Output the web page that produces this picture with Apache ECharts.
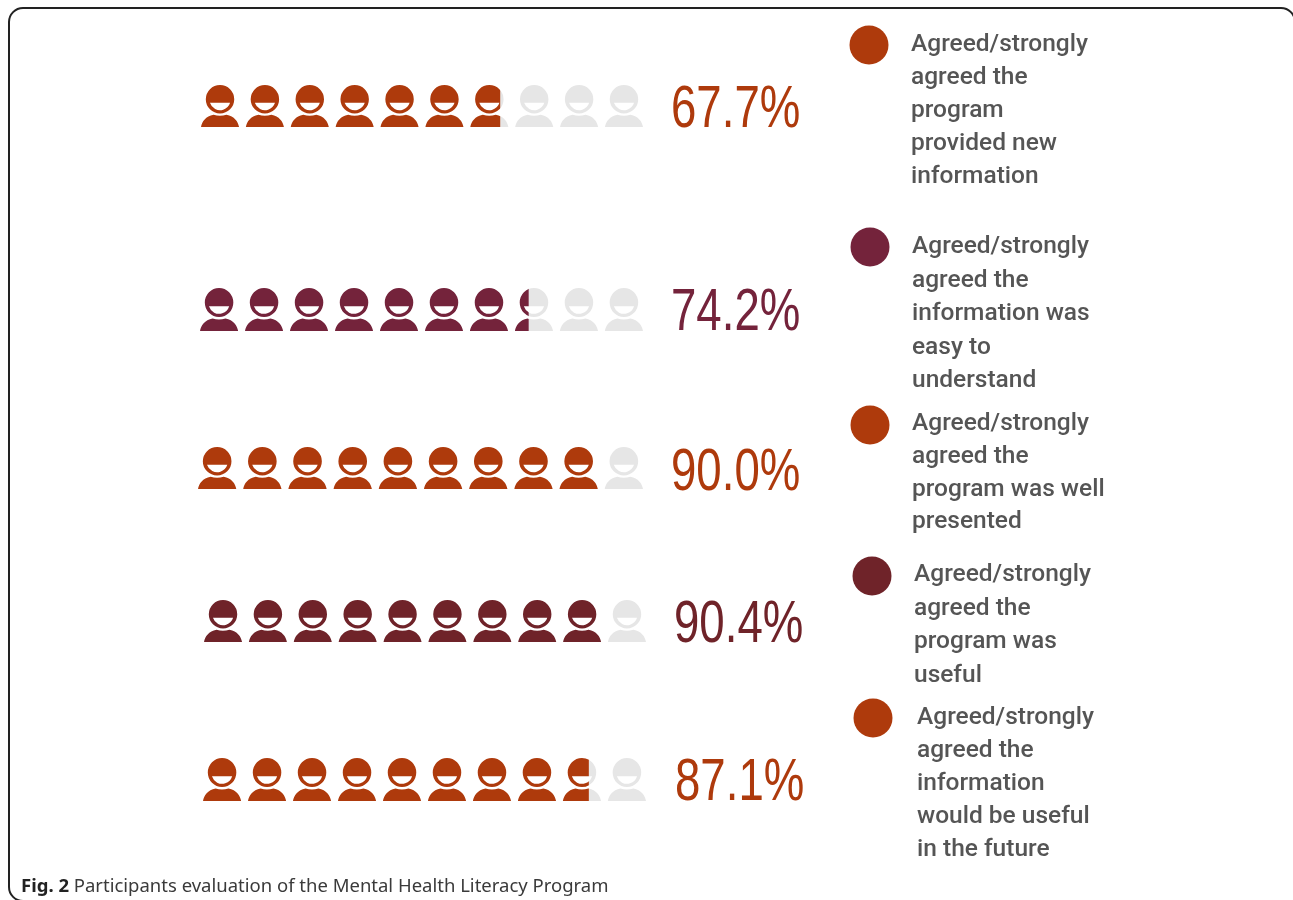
<!DOCTYPE html>
<html>
<head>
<meta charset="utf-8">
<script src="https://cdn.jsdelivr.net/npm/echarts@6/dist/echarts.min.js"></script>
<style>html,body{margin:0;padding:0;background:#fff}#c{width:1293px;height:900px}</style>
</head>
<body>
<div id="c"></div>
<script>
var percentValues = [67.7, 74.2, 90.0, 90.4, 87.1];
var iconCount = 10;
var rowColors = ['#AE3A0C', '#74233B', '#AE3A0C', '#6F2329', '#AE3A0C'];
var legendColors = ['#AE3A0C', '#74233B', '#AE3A0C', '#6F2329', '#AE3A0C'];
var legendLines = [
  ['Agreed/strongly', 'agreed the', 'program', 'provided new', 'information'],
  ['Agreed/strongly', 'agreed the', 'information was', 'easy to', 'understand'],
  ['Agreed/strongly', 'agreed the', 'program was well', 'presented'],
  ['Agreed/strongly', 'agreed the', 'program was', 'useful'],
  ['Agreed/strongly', 'agreed the', 'information', 'would be useful', 'in the future']
];
var captionBold = 'Fig. 2';
var captionText = ' Participants evaluation of the Mental Health Literacy Program';

// Layout
var rowBoxes = [
  {left: 201, width: 442, top: 85, height: 42},
  {left: 200, width: 443, top: 288, height: 43},
  {left: 198, width: 445, top: 447, height: 42},
  {left: 204, width: 442, top: 600, height: 42},
  {left: 203, width: 443, top: 758, height: 43}
];
var pctPos = [[671, 110], [671, 313], [671, 473], [674, 625], [675, 783]];
var circlePos = [[869, 45], [870, 247], [870, 425], [872, 576], [873, 718]];
var legendPos = [[911, 45, 33], [912, 247, 33.5], [912, 424, 32.7], [914, 575, 33.5], [917, 718, 33]];

var personPath = 'path://M57.5 0A43 43 0 1 1 57.5 86A43 43 0 1 1 57.5 0Z' +
  'M27 54A32 32 0 0 0 88 54Z' +
  'M0 127C3 110 14 95 38 90Q57 96 77 90C101 95 112 110 115 127Z';

var grids = [], xAxes = [], yAxes = [], series = [], graphics = [];

percentValues.forEach(function (v, i) {
  var b = rowBoxes[i];
  grids.push({left: b.left, width: b.width, top: b.top, height: b.height, containLabel: false});
  xAxes.push({type: 'value', gridIndex: i, min: 0, max: 100, show: false});
  yAxes.push({type: 'category', gridIndex: i, data: ['r' + i], show: false});
  var common = {
    type: 'pictorialBar', xAxisIndex: i, yAxisIndex: i, symbol: personPath,
    symbolRepeat: iconCount, symbolBoundingData: 100, symbolPosition: 'start',
    symbolSize: [b.width / 11.62, b.height], silent: true, animation: false
  };
  series.push(Object.assign({}, common, {
    z: 1, data: [100], itemStyle: {color: '#E6E6E6'}
  }));
  series.push({
    type: 'bar', xAxisIndex: i, yAxisIndex: i, z: 2, barWidth: b.height + 2, silent: true,
    animation: false, data: [v], itemStyle: {color: '#fff'}
  });
  series.push(Object.assign({}, common, {
    z: 3, data: [v], symbolClip: true, itemStyle: {color: rowColors[i]}
  }));
  graphics.push({
    type: 'text', x: pctPos[i][0], y: pctPos[i][1], scaleX: 0.76, silent: true,
    style: {
      text: v.toFixed(1) + '%', fill: rowColors[i],
      font: '60px "Liberation Sans"', textVerticalAlign: 'middle', textAlign: 'left'
    }
  });
  graphics.push({
    type: 'circle', shape: {cx: circlePos[i][0], cy: circlePos[i][1], r: 19.5},
    silent: true, style: {fill: legendColors[i]}
  });
  var lp = legendPos[i];
  legendLines[i].forEach(function (line, j) {
    graphics.push({
      type: 'text', x: lp[0], y: lp[1] + j * lp[2], silent: true,
      style: {
        text: line, fill: '#555555', font: '500 24.5px Roboto',
        textVerticalAlign: 'middle', textAlign: 'left'
      }
    });
  });
});

graphics.push({
  type: 'rect', silent: true, z: 10,
  shape: {x: 9, y: 8, width: 1286, height: 893, r: [14, 14, 0, 14]},
  style: {stroke: '#222', lineWidth: 2, fill: 'none'}
});
graphics.push({
  type: 'text', x: 21, y: 887, silent: true,
  style: {
    text: '{b|' + captionBold + '}{n|' + captionText + '}',
    textVerticalAlign: 'middle', textAlign: 'left',
    rich: {
      b: {font: 'bold 18.5px "Noto Sans"', fill: '#222'},
      n: {font: '18.5px "Noto Sans"', fill: '#3a3a3a'}
    }
  }
});

var chart = echarts.init(document.getElementById('c'), null, {renderer: 'canvas', width: 1293, height: 900});
chart.setOption({
  animation: false,
  backgroundColor: '#fff',
  grid: grids, xAxis: xAxes, yAxis: yAxes, series: series, graphic: {elements: graphics}
});
</script>
</body>
</html>
